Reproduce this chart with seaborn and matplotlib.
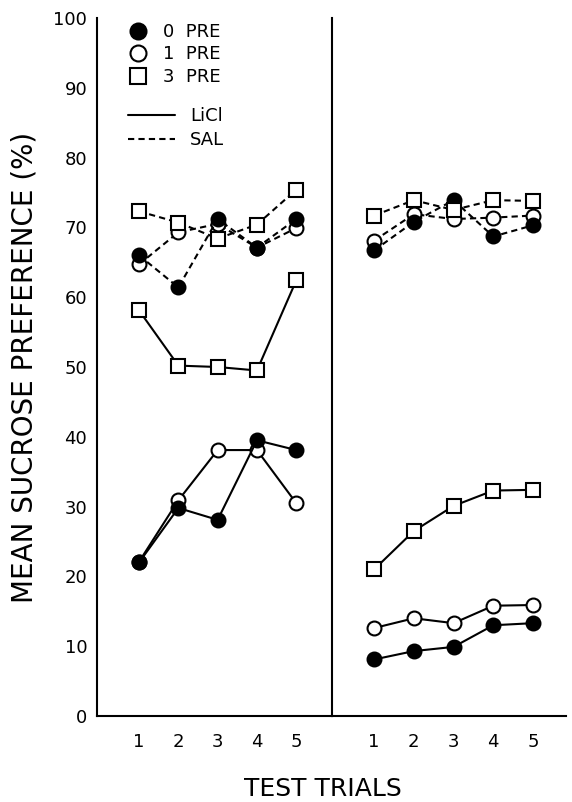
import matplotlib
matplotlib.use("Agg")
import matplotlib.pyplot as plt
from matplotlib.lines import Line2D
import seaborn as sns
import pandas as pd

trials = [1, 2, 3, 4, 5]
groups = ["0 PRE", "1 PRE", "3 PRE"]

# left panel
left_licl_0 = [22.0, 29.8, 28.1, 39.5, 38.1]
left_licl_1 = [22.1, 30.9, 38.1, 38.1, 30.5]
left_licl_3 = [58.1, 50.2, 50.0, 49.5, 62.4]
left_sal_0 = [66.0, 61.4, 71.2, 67.1, 71.2]
left_sal_1 = [64.7, 69.3, 70.5, 67.1, 69.9]
left_sal_3 = [72.3, 70.7, 68.4, 70.4, 75.4]

# right panel
right_licl_0 = [8.1, 9.3, 9.9, 13.0, 13.3]
right_licl_1 = [12.6, 14.0, 13.3, 15.8, 15.9]
right_licl_3 = [21.0, 26.5, 30.1, 32.3, 32.4]
right_sal_0 = [66.7, 70.8, 73.9, 68.7, 70.3]
right_sal_1 = [68.1, 71.9, 71.2, 71.4, 71.7]
right_sal_3 = [71.7, 73.9, 72.5, 73.9, 73.8]

series = [
    ("left", "LiCl", "0 PRE", left_licl_0), ("left", "LiCl", "1 PRE", left_licl_1),
    ("left", "LiCl", "3 PRE", left_licl_3), ("left", "SAL", "0 PRE", left_sal_0),
    ("left", "SAL", "1 PRE", left_sal_1), ("left", "SAL", "3 PRE", left_sal_3),
    ("right", "LiCl", "0 PRE", right_licl_0), ("right", "LiCl", "1 PRE", right_licl_1),
    ("right", "LiCl", "3 PRE", right_licl_3), ("right", "SAL", "0 PRE", right_sal_0),
    ("right", "SAL", "1 PRE", right_sal_1), ("right", "SAL", "3 PRE", right_sal_3),
]
rows = []
for panel, drug, grp, vals in series:
    for t, v in zip(trials, vals):
        rows.append({"panel": panel, "drug": drug, "group": grp, "trial": t, "pref": v})
df = pd.DataFrame(rows)

sns.set_theme(style="white")
plt.rcParams["font.family"] = ["DejaVu Sans"]
plt.rcParams["text.color"] = "black"
plt.rcParams["axes.labelcolor"] = "black"

marker_style = {
    "0 PRE": dict(marker="o", markerfacecolor="black", zorder=4),
    "1 PRE": dict(marker="o", markerfacecolor="white", zorder=3),
    "3 PRE": dict(marker="s", markerfacecolor="white", zorder=5),
}
line_style = {"LiCl": "-", "SAL": (0, (3, 2))}

fig = plt.figure(figsize=(5.72, 8.02), dpi=100)
ax_l = fig.add_axes([97 / 572, 86 / 802, 235 / 572, 698 / 802])
ax_r = fig.add_axes([332 / 572, 86 / 802, 234 / 572, 698 / 802])

for ax, panel in [(ax_l, "left"), (ax_r, "right")]:
    sub = df[df["panel"] == panel]
    for (drug, grp), d in sub.groupby(["drug", "group"]):
        sns.lineplot(data=d, x="trial", y="pref", ax=ax, color="black",
                     linewidth=1.5, linestyle=line_style[drug],
                     markersize=10, markeredgecolor="black",
                     markeredgewidth=1.5, **marker_style[grp])
    ax.set_ylim(0, 100)
    ax.set_yticks(range(0, 101, 10))
    ax.set_xticks(trials)
    ax.set_xlabel("")
    ax.set_ylabel("")
    for s in ["top", "right"]:
        ax.spines[s].set_visible(False)
    for s in ["left", "bottom"]:
        ax.spines[s].set_linewidth(1.5)
        ax.spines[s].set_color("black")
    ax.tick_params(axis="both", direction="in", length=10, width=1.3,
                   color="black", labelsize=13, labelcolor="black")
    ax.tick_params(axis="y", pad=7)
    ax.tick_params(axis="x", pad=12)
    ax.patch.set_alpha(0)

ax_l.set_xlim(-0.07, 5.91)
ax_r.set_xlim(-0.06, 5.83)
ax_r.tick_params(axis="y", labelleft=False)
ax_l.set_ylabel("MEAN SUCROSE PREFERENCE (%)", fontsize=20, labelpad=11)

# legends
mk_handles = [Line2D([], [], linestyle="none", color="black", markersize=11.5,
                     markeredgewidth=1.5, markeredgecolor="black",
                     marker=marker_style[g]["marker"],
                     markerfacecolor=marker_style[g]["markerfacecolor"]) for g in groups]
mk_labels = [g.replace(" ", "  ") for g in groups]
leg1 = ax_l.legend(mk_handles, mk_labels, loc="upper left",
                   bbox_to_anchor=(0.136, 0.993), frameon=False, fontsize=13,
                   handlelength=1.0, handletextpad=0.9, labelspacing=0.25,
                   borderpad=0, borderaxespad=0, labelcolor="black")
ax_l.add_artist(leg1)
ln_handles = [Line2D([], [], color="black", linewidth=1.5, linestyle=line_style[k])
              for k in ["LiCl", "SAL"]]
ax_l.legend(ln_handles, ["LiCl", "SAL"], loc="upper left",
            bbox_to_anchor=(0.132, 0.872), frameon=False, fontsize=13,
            handlelength=2.6, handletextpad=0.83, labelspacing=0.33,
            borderpad=0, borderaxespad=0, labelcolor="black")

fig.text(323 / 572, 1 - 789 / 802, "TEST TRIALS", fontsize=18,
         ha="center", va="center", color="black")

fig.savefig("out.png", dpi=100)
